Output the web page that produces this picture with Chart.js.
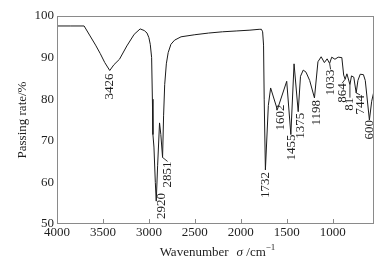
<!DOCTYPE html>
<html>
<head>
<meta charset="utf-8">
<script src="https://cdn.jsdelivr.net/npm/chart.js@4.4.1/dist/chart.umd.min.js"></script>
<style>
  html, body { margin: 0; padding: 0; background: #fff; }
</style>
</head>
<body>
<canvas id="chart" width="388" height="264"></canvas>
<script>
// IR spectrum
const wavenumbers = [
  4000, 3850, 3705, 3640, 3580, 3530, 3480, 3426, 3380, 3320, 3240, 3160, 3095, 3050, 3020, 3000,
  2985, 2970, 2962, 2956, 2945, 2930, 2920, 2905, 2884, 2870, 2851, 2840, 2828, 2810, 2790, 2760,
  2720, 2650, 2500, 2350, 2200, 2050, 1900, 1800, 1775, 1762, 1752, 1745, 1732, 1700, 1675, 1602,
  1500, 1455, 1420, 1375, 1350, 1320, 1290, 1250, 1198, 1160, 1125, 1090, 1060, 1033, 1010, 975,
  940, 900, 880, 864, 845, 812, 795, 770, 744, 725, 700, 665, 645, 600, 575, 550
];
const transmittance = [
  97.6, 97.6, 97.6, 95.2, 93.0, 91.0, 88.8, 86.9, 88.3, 89.6, 92.8, 95.6, 96.9, 96.5, 95.9, 94.8,
  93.2, 90.0, 80.0, 71.5, 68.5, 60.0, 55.5, 64.0, 74.3, 71.5, 66.0, 76.0, 83.5, 88.5, 91.2, 93.2,
  94.2, 95.0, 95.5, 95.9, 96.2, 96.4, 96.6, 96.8, 96.8, 96.2, 93.0, 80.0, 63.0, 78.5, 82.7, 77.5,
  84.3, 71.5, 88.5, 77.0, 85.5, 87.0, 86.5, 84.5, 80.3, 89.0, 90.2, 88.8, 89.7, 88.6, 90.1, 89.6,
  90.1, 90.0, 85.8, 84.8, 86.1, 83.5, 85.6, 85.3, 81.5, 84.5, 86.0, 85.9, 84.5, 75.0, 79.5, 82.0
];

const xTicks = [4000, 3500, 3000, 2500, 2000, 1500, 1000];
const yTicks = [50, 60, 70, 80, 90, 100];

const peakLabels = ['3426', '2920', '2851', '1732', '1602', '1455', '1375', '1198', '1033', '864', '81', '744', '600'];
const peakWavenumbers = [3426, 2920, 2851, 1732, 1602, 1455, 1375, 1198, 1033, 864, 812, 744, 600];
const peakValues = [86.9, 55.5, 66.0, 63.0, 77.5, 71.5, 77.0, 80.3, 88.6, 84.8, 83.5, 81.5, 75.0];
// where each label sits, in px from its peak: [dx, dy]
const labelOffsets = [[0, 3], [5, -8], [5, 4], [0, 2], [3, -5], [1, 0], [2, 1], [2, 2], [1, 6], [-3, 4], [0, 13], [4, 2], [0, 0]];

const FONT = "'Liberation Serif', 'Times New Roman', serif";
const TEXT = '#1e1e1e';
const AXIS = '#8a8a8a';

const spectrumExtras = {
  id: 'spectrumExtras',
  afterDraw(chart) {
    const { ctx, chartArea: a, scales: { x, y } } = chart;
    ctx.save();

    // frame
    ctx.strokeStyle = AXIS;
    ctx.lineWidth = 1;
    ctx.strokeRect(Math.round(a.left) + 0.5, Math.round(a.top) + 0.5,
                   Math.round(a.right - a.left) - 1, Math.round(a.bottom - a.top) - 1);

    // inward tick marks on the bottom axis
    ctx.beginPath();
    xTicks.forEach(t => {
      if (t === 4000) return;
      const px = Math.round(x.getPixelForValue(t)) + 0.5;
      ctx.moveTo(px, a.bottom);
      ctx.lineTo(px, a.bottom - 5);
    });
    ctx.stroke();

    // peak labels, rotated
    ctx.fillStyle = TEXT;
    ctx.strokeStyle = '#333';
    ctx.font = '13px ' + FONT;
    ctx.textAlign = 'right';
    ctx.textBaseline = 'middle';
    peakLabels.forEach((label, i) => {
      const px = x.getPixelForValue(peakWavenumbers[i]);
      const py = y.getPixelForValue(peakValues[i]);
      const [dx, dy] = labelOffsets[i];
      const lx = px + dx, ly = py + dy;
      if (Math.abs(dx) + Math.abs(dy) > 4 && dy > 0) {
        ctx.beginPath();
        ctx.moveTo(px, py);
        ctx.lineTo(lx, ly);
        ctx.stroke();
      }
      ctx.save();
      ctx.translate(lx, ly);
      ctx.rotate(-Math.PI / 2);
      ctx.fillText(label, 0, 0);
      ctx.restore();
    });

    // x title: Wavenumber   σ /cm-1
    const cx = (a.left + a.right) / 2 + 2;
    const ty = 253;
    const partA = 'Wavenumber';
    const gap = 8;
    ctx.textAlign = 'left';
    ctx.textBaseline = 'middle';
    ctx.font = '13px ' + FONT;
    const wA = ctx.measureText(partA).width;
    ctx.font = 'italic 13px ' + FONT;
    const wS = ctx.measureText('σ').width;
    ctx.font = '13px ' + FONT;
    const wC = ctx.measureText(' /cm').width;
    ctx.font = '9px ' + FONT;
    const wE = ctx.measureText('−1').width;
    let tx = cx - (wA + gap + wS + wC + wE) / 2;
    ctx.font = '13px ' + FONT;
    ctx.fillText(partA, tx, ty);
    tx += wA + gap;
    ctx.font = 'italic 13px ' + FONT;
    ctx.fillText('σ', tx, ty);
    tx += wS;
    ctx.font = '13px ' + FONT;
    ctx.fillText(' /cm', tx, ty);
    tx += wC;
    ctx.font = '9px ' + FONT;
    ctx.fillText('−1', tx, ty - 5);

    ctx.restore();
  }
};

new Chart(document.getElementById('chart'), {
  type: 'line',
  data: {
    datasets: [{
      data: wavenumbers.map((w, i) => ({ x: w, y: transmittance[i] })),
      borderColor: '#1a1a1a',
      borderWidth: 1,
      pointRadius: 0,
      tension: 0,
      fill: false
    }]
  },
  options: {
    responsive: false,
    animation: false,
    devicePixelRatio: 1,
    layout: { padding: { top: 16, right: 14, left: 0, bottom: 0 } },
    scales: {
      x: {
        type: 'linear',
        reverse: true,
        min: 550,
        max: 4000,
        afterBuildTicks: (scale) => { scale.ticks = xTicks.map(v => ({ value: v })); },
        afterFit: (scale) => { scale.height = 40; },
        grid: { display: false, drawTicks: false, tickLength: 0 },
        border: { display: false },
        ticks: {
          color: TEXT,
          font: { family: FONT, size: 13 },
          padding: 1,
          maxRotation: 0,
          autoSkip: false,
          callback: (value) => String(value)
        }
      },
      y: {
        min: 50,
        max: 100,
        afterBuildTicks: (scale) => { scale.ticks = yTicks.map(v => ({ value: v })); },
        afterFit: (scale) => { scale.width = 57; },
        grid: { display: false, drawTicks: false, tickLength: 0 },
        border: { display: false },
        title: {
          display: true,
          text: 'Passing rate/%',
          color: TEXT,
          font: { family: FONT, size: 13 },
          padding: { top: 15 }
        },
        ticks: {
          color: TEXT,
          font: { family: FONT, size: 13 },
          padding: 3
        }
      }
    },
    plugins: {
      legend: { display: false },
      tooltip: { enabled: false }
    }
  },
  plugins: [spectrumExtras]
});
</script>
</body>
</html>
